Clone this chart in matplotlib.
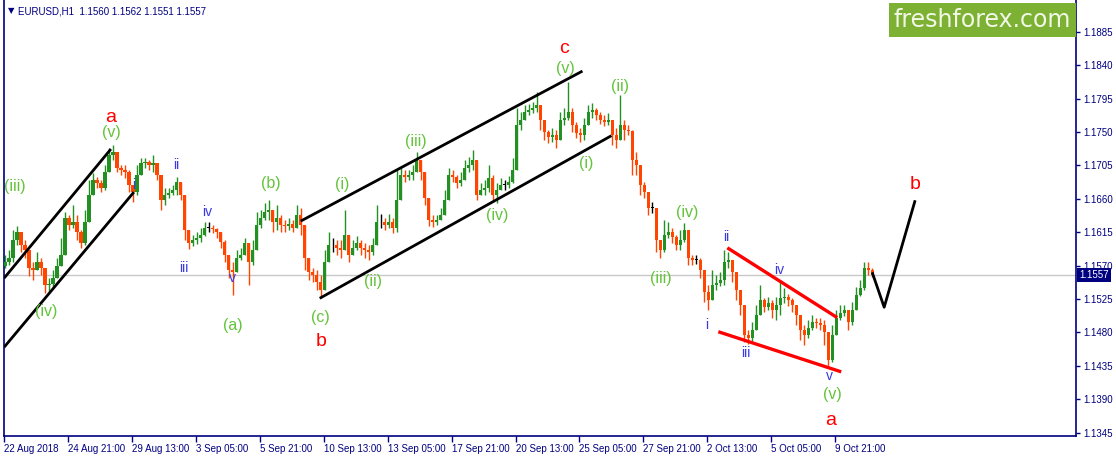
import matplotlib
matplotlib.use("Agg")
import matplotlib.pyplot as plt
from matplotlib.patches import Rectangle
import numpy as np

plt.rcParams['font.family'] = ['Liberation Sans', 'DejaVu Sans']

# ---- data: 4-hour aggregates of the H1 chart (x = hour index from start) ----
bars_per_candle = 4
close = [
1.1575,1.1580,1.1605,1.1615,1.1598,1.1591,1.1567,1.1564,1.1575,1.1567,
1.1544,1.1545,1.1553,1.1570,1.1584,1.1634,1.1625,1.1629,1.1615,1.1600,
1.1629,1.1665,1.1685,1.1681,1.1675,1.1696,1.1719,1.1723,1.1701,1.1699,
1.1696,1.1679,1.1669,1.1692,1.1708,1.1710,1.1706,1.1708,1.1692,1.1658,
1.1665,1.1668,1.1672,1.1683,1.1665,1.1618,1.1600,1.1605,1.1607,1.1611,
1.1621,1.1621,1.1619,1.1615,1.1602,1.1584,1.1564,1.1561,1.1580,1.1584,
1.1600,1.1575,1.1591,1.1625,1.1634,1.1642,1.1645,1.1629,1.1634,1.1625,
1.1623,1.1626,1.1621,1.1638,1.1625,1.1580,1.1561,1.1557,1.1548,1.1537,
1.1575,1.1598,1.1598,1.1594,1.1591,1.1611,1.1584,1.1594,1.1600,1.1594,
1.1591,1.1588,1.1598,1.1629,1.1629,1.1625,1.1629,1.1621,1.1658,1.1692,
1.1689,1.1692,1.1696,1.1712,1.1696,1.1661,1.1631,1.1629,1.1631,1.1638,
1.1658,1.1692,1.1689,1.1681,1.1685,1.1701,1.1706,1.1712,1.1665,1.1672,
1.1675,1.1688,1.1665,1.1672,1.1679,1.1679,1.1683,1.1699,1.1759,1.1766,
1.1777,1.1780,1.1782,1.1786,1.1766,1.1750,1.1743,1.1746,1.1739,1.1766,
1.1769,1.1777,1.1759,1.1749,1.1746,1.1759,1.1777,1.1780,1.1773,1.1766,
1.1763,1.1766,1.1746,1.1739,1.1759,1.1753,1.1751,1.1712,1.1706,1.1679,
1.1669,1.1648,1.1648,1.1605,1.1591,1.1611,1.1615,1.1609,1.1598,1.1605,
1.1618,1.1580,1.1578,1.1578,1.1564,1.1535,1.1524,1.1544,1.1547,1.1551,
1.1575,1.1578,1.1561,1.1537,1.1517,1.1477,1.1473,1.1483,1.1504,1.1524,
1.1514,1.1520,1.1510,1.1517,1.1526,1.1528,1.1524,1.1517,1.1504,1.1483,
1.1477,1.1486,1.1494,1.1493,1.1490,1.1481,1.1443,1.1477,1.1500,1.1506,
1.1510,1.1494,1.1510,1.1530,1.1540,1.1567,1.1564,1.1557]
high = [
1.1584,1.1591,1.1618,1.1623,1.1610,1.1605,1.1591,1.1575,1.1588,1.1580,
1.1567,1.1553,1.1564,1.1580,1.1607,1.1642,1.1638,1.1652,1.1638,1.1618,
1.1645,1.1685,1.1695,1.1689,1.1685,1.1706,1.1728,1.1732,1.1719,1.1706,
1.1706,1.1699,1.1679,1.1706,1.1715,1.1715,1.1712,1.1719,1.1706,1.1692,
1.1675,1.1675,1.1679,1.1689,1.1679,1.1658,1.1611,1.1611,1.1615,1.1621,
1.1629,1.1629,1.1625,1.1621,1.1615,1.1605,1.1580,1.1575,1.1591,1.1594,
1.1607,1.1598,1.1605,1.1642,1.1645,1.1654,1.1658,1.1645,1.1652,1.1638,
1.1631,1.1634,1.1631,1.1652,1.1648,1.1605,1.1575,1.1567,1.1564,1.1557,
1.1591,1.1615,1.1607,1.1605,1.1605,1.1645,1.1607,1.1605,1.1610,1.1605,
1.1600,1.1598,1.1607,1.1652,1.1640,1.1634,1.1640,1.1634,1.1699,1.1701,
1.1699,1.1699,1.1706,1.1723,1.1712,1.1685,1.1652,1.1638,1.1638,1.1648,
1.1672,1.1701,1.1699,1.1692,1.1696,1.1712,1.1716,1.1726,1.1706,1.1681,
1.1685,1.1706,1.1692,1.1681,1.1688,1.1685,1.1691,1.1715,1.1782,1.1777,
1.1786,1.1788,1.1790,1.1804,1.1786,1.1766,1.1753,1.1755,1.1753,1.1777,
1.1782,1.1817,1.1782,1.1763,1.1755,1.1769,1.1786,1.1789,1.1782,1.1777,
1.1773,1.1776,1.1766,1.1755,1.1800,1.1766,1.1759,1.1753,1.1723,1.1699,
1.1683,1.1665,1.1656,1.1645,1.1605,1.1631,1.1629,1.1621,1.1611,1.1618,
1.1627,1.1611,1.1584,1.1584,1.1580,1.1557,1.1544,1.1564,1.1557,1.1561,
1.1591,1.1588,1.1578,1.1557,1.1530,1.1504,1.1483,1.1494,1.1517,1.1544,
1.1526,1.1528,1.1524,1.1528,1.1551,1.1540,1.1532,1.1526,1.1517,1.1504,
1.1490,1.1497,1.1504,1.1500,1.1500,1.1497,1.1470,1.1490,1.1510,1.1517,
1.1517,1.1510,1.1521,1.1541,1.1551,1.1575,1.1575,1.1567]
low = [
1.1567,1.1571,1.1575,1.1598,1.1588,1.1580,1.1556,1.1551,1.1564,1.1557,
1.1533,1.1535,1.1541,1.1556,1.1571,1.1605,1.1618,1.1621,1.1605,1.1594,
1.1598,1.1642,1.1672,1.1675,1.1669,1.1672,1.1701,1.1712,1.1696,1.1692,
1.1688,1.1669,1.1656,1.1665,1.1696,1.1701,1.1699,1.1696,1.1685,1.1645,
1.1652,1.1661,1.1665,1.1665,1.1658,1.1605,1.1592,1.1596,1.1599,1.1602,
1.1610,1.1615,1.1614,1.1607,1.1594,1.1575,1.1553,1.1530,1.1564,1.1578,
1.1584,1.1544,1.1571,1.1591,1.1621,1.1631,1.1631,1.1615,1.1618,1.1615,
1.1615,1.1618,1.1615,1.1625,1.1611,1.1564,1.1551,1.1548,1.1537,1.1528,
1.1537,1.1580,1.1588,1.1584,1.1580,1.1598,1.1575,1.1584,1.1591,1.1584,
1.1580,1.1578,1.1584,1.1605,1.1621,1.1618,1.1621,1.1614,1.1615,1.1679,
1.1683,1.1685,1.1685,1.1696,1.1685,1.1652,1.1623,1.1622,1.1625,1.1631,
1.1645,1.1672,1.1683,1.1675,1.1677,1.1688,1.1696,1.1699,1.1658,1.1665,
1.1665,1.1669,1.1658,1.1654,1.1672,1.1672,1.1675,1.1681,1.1710,1.1753,
1.1766,1.1773,1.1776,1.1777,1.1753,1.1739,1.1735,1.1737,1.1728,1.1742,
1.1759,1.1766,1.1750,1.1742,1.1737,1.1739,1.1763,1.1769,1.1766,1.1761,
1.1758,1.1759,1.1732,1.1728,1.1746,1.1739,1.1746,1.1692,1.1692,1.1665,
1.1661,1.1638,1.1641,1.1588,1.1580,1.1588,1.1607,1.1600,1.1591,1.1591,
1.1602,1.1571,1.1571,1.1572,1.1553,1.1521,1.1510,1.1524,1.1537,1.1543,
1.1544,1.1567,1.1548,1.1524,1.1504,1.1467,1.1464,1.1466,1.1490,1.1510,
1.1508,1.1510,1.1500,1.1497,1.1504,1.1520,1.1516,1.1508,1.1490,1.1470,
1.1463,1.1473,1.1483,1.1486,1.1483,1.1463,1.1432,1.1440,1.1483,1.1497,
1.1502,1.1483,1.1490,1.1517,1.1529,1.1537,1.1557,1.1555]
first_open = 1.1570
last_price = 1.1557
title_text = "EURUSD,H1  1.1560 1.1562 1.1551 1.1557"

xtick_pos = [-1, 63, 127, 191, 255, 319, 383, 447, 511, 575, 639, 703, 767, 831]
xtick_labels = ['22 Aug 2018', '24 Aug 21:00', '29 Aug 13:00', '3 Sep 05:00',
                '5 Sep 21:00', '10 Sep 13:00', '13 Sep 05:00', '17 Sep 21:00',
                '20 Sep 13:00', '25 Sep 05:00', '27 Sep 21:00', '2 Oct 13:00',
                '5 Oct 05:00', '9 Oct 21:00']
ytick_vals = [1.1885, 1.1840, 1.1795, 1.1750, 1.1705, 1.1660, 1.1615,
              1.1570, 1.1525, 1.1480, 1.1435, 1.1390, 1.1345]

# trend lines drawn on the chart (hour index, price)
black_lines = [
    ([-1, 106], [1.1553, 1.1727]),
    ([-1, 129], [1.1460, 1.1669]),
    ([296, 578], [1.1630, 1.1832]),
    ([315, 607], [1.1526, 1.1745]),
    ([868, 880, 911], [1.1561, 1.1514, 1.1658]),
]
red_lines = [
    ([723, 833], [1.1594, 1.1500]),
    ([714, 837], [1.1481, 1.1427]),
]
red_labels = [("a", 106, 1.1769), ("c", 560, 1.1863), ("b", 316, 1.1468),
              ("b", 911, 1.1679), ("a", 826, 1.1361)]
green_labels = [("(iii)", 10, 1.1676), ("(v)", 106, 1.1749), ("(iv)", 41, 1.1508),
                ("(a)", 228, 1.1490), ("(b)", 266, 1.1681), ("(c)", 316, 1.1500),
                ("(i)", 338, 1.1679), ("(ii)", 368, 1.1549), ("(iii)", 411, 1.1737),
                ("(iv)", 493, 1.1638), ("(v)", 561, 1.1836), ("(i)", 582, 1.1708),
                ("(ii)", 616, 1.1811), ("(iv)", 683, 1.1641), ("(iii)", 656, 1.1553),
                ("(v)", 828, 1.1397)]
blue_labels = [("i", 129, 1.1679), ("ii", 171, 1.1706), ("iii", 179, 1.1567),
               ("iv", 202, 1.1642), ("v", 228, 1.1553), ("ii", 722, 1.1609),
               ("i", 702, 1.1490), ("iii", 742, 1.1452), ("iv", 775, 1.1564),
               ("v", 825, 1.1421)]

NAVY = '#000080'
UP = '#229122'
DOWN = '#FF4500'

fig = plt.figure(figsize=(11.16, 4.57), dpi=100)
ax = fig.add_axes([4/1116, 21/457, 1072/1116, 436/457])
ax.set_xlim(0, 1072)
ax.set_ylim(1.13406, 1.19277)

c = np.array(close)
h = np.array(high)
l = np.array(low)
o = np.concatenate([[first_open], c[:-1]])
h = np.maximum(h, np.maximum(o, c))
l = np.minimum(l, np.minimum(o, c))
x = np.arange(len(c)) * bars_per_candle
cols = np.where(c > o, UP, np.where(c < o, DOWN, 'black'))

ax.axhline(last_price, color='#C8C8C8', lw=1, zorder=1)
ax.vlines(x, l, h, colors=cols, lw=1.0, zorder=2)
ax.bar(x, np.maximum(np.abs(c - o), 0.00004), bottom=np.minimum(o, c),
       width=3.3, color=cols, linewidth=0, zorder=3)

for xs, ys in black_lines:
    ax.plot(xs, ys, color='black', lw=2.0, solid_capstyle='butt', zorder=4)
for xs, ys in red_lines:
    ax.plot(xs, ys, color='#FF0000', lw=2.4, solid_capstyle='butt', zorder=4)

for t, xx, yy in red_labels:
    ax.text(xx, yy, t, color='#FF0000', fontsize=14, ha='center', va='center', zorder=6)
for t, xx, yy in green_labels:
    ax.text(xx, yy, t, color='#62C43A', fontsize=11.5, ha='center', va='center', zorder=6)
for t, xx, yy in blue_labels:
    ax.text(xx, yy, t, color='#3A3AE0', fontsize=10, ha='center', va='center', zorder=6)

# axes styling
for s in ['left', 'right', 'bottom']:
    ax.spines[s].set_color(NAVY)
    ax.spines[s].set_linewidth(1.2)
ax.spines['top'].set_visible(False)
ax.yaxis.tick_right()
ax.set_yticks(ytick_vals)
ax.set_yticklabels([f"{v:.4f}" for v in ytick_vals])
ax.tick_params(axis='y', direction='out', length=3, width=1, color=NAVY,
               labelcolor=NAVY, labelsize=7, pad=2)
ax.set_xticks(xtick_pos)
ax.set_xticklabels(xtick_labels, ha='left')
ax.tick_params(axis='x', direction='out', length=4, width=1, color=NAVY,
               labelcolor=NAVY, labelsize=7, pad=2)

# current price box
ax.text(1.003, last_price, "1.1557", transform=ax.get_yaxis_transform(),
        color='white', fontsize=7, ha='left', va='center', zorder=10,
        bbox=dict(facecolor=NAVY, edgecolor='none', pad=1.5), clip_on=False)

# title
fig.text(8/1116, 1 - 11/457, "\u25BC", color=NAVY, fontsize=6,
         family=['DejaVu Sans'], ha='left', va='center')
fig.text(18/1116, 1 - 11/457, title_text, color=NAVY, fontsize=7,
         ha='left', va='center')

# watermark
fig.patches.append(Rectangle((889/1116, 1 - 37/457), 187/1116, 34/457,
                             transform=fig.transFigure, facecolor='#7DB134',
                             edgecolor='none', zorder=20))
fig.text(982/1116, 1 - 20/457, "freshforex.com", color='#F2F7E6', fontsize=17,
         family=['DejaVu Sans'], ha='center', va='center', zorder=21)

fig.savefig("out.png", dpi=100)
